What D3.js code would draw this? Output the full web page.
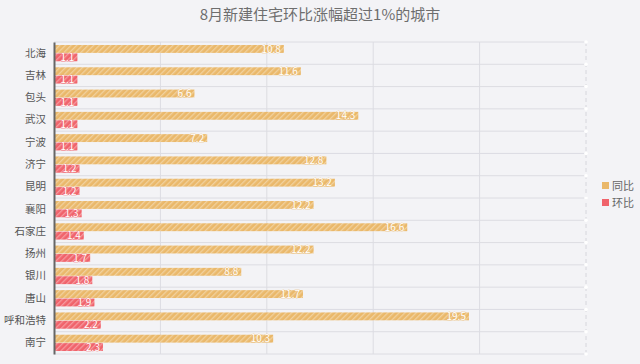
<!DOCTYPE html>
<html lang="zh-CN">
<head>
    <meta charset="utf-8">
    <title>8月新建住宅环比涨幅超过1%的城市</title>
    <style>
        body {
            margin: 0;
            background-color: #f3f3f6;
            font-family: 'Noto Sans CJK SC', 'Noto Sans', sans-serif;
        }
        svg { display: block; }
    </style>
    <script src="https://d3js.org/d3.v7.min.js" charset="utf-8"></script>
</head>
<body>
    <svg id="chart" width="640" height="364"></svg>

    <script type="text/javascript">
      var cities = ["北海", "吉林", "包头", "武汉", "宁波", "济宁", "昆明", "襄阳", "石家庄", "扬州", "银川", "唐山", "呼和浩特", "南宁"]
      var tongbi = [10.8, 11.6, 6.6, 14.3, 7.2, 12.8, 13.2, 12.2, 16.6, 12.2, 8.8, 11.7, 19.5, 10.3]
      var huanbi = [1.1, 1.1, 1.1, 1.1, 1.1, 1.2, 1.2, 1.3, 1.4, 1.7, 1.8, 1.9, 2.2, 2.3]
      var xTicks = [0, 5, 10, 15, 20, 25]
      var seriesNames = ["同比", "环比"]
      var colors = ["#eab86a", "#f0636b"]

      var svg = d3.select("#chart")
      var pLeft = 54, pRight = 586, pTop = 42, pBottom = 354

      var x = d3.scaleLinear().domain([0, 25]).range([pLeft, pRight])
      var y = d3.scaleBand().domain(cities).range([pTop, pBottom])
      var sub = d3.scaleBand().domain(seriesNames).range([3, y.bandwidth() - 3]).paddingInner(0.06)

      // stripe patterns
      var defs = svg.append("defs")
      colors.forEach(function (c, i) {
        var p = defs.append("pattern")
          .attr("id", "stripe" + i)
          .attr("patternUnits", "userSpaceOnUse")
          .attr("width", 4).attr("height", 4)
          .attr("patternTransform", "rotate(45)")
        p.append("rect").attr("width", 4).attr("height", 4).attr("fill", c)
        p.append("rect").attr("width", 1.3).attr("height", 4).attr("fill", "#fff").attr("opacity", 0.35)
      })

      // title
      svg.append("text")
        .attr("x", 320).attr("y", 20)
        .attr("text-anchor", "middle")
        .attr("font-size", 15)
        .attr("fill", "#6e6e6e")
        .text("8月新建住宅环比涨幅超过1%的城市")

      // vertical grid
      svg.append("g").selectAll("line")
        .data(xTicks.slice(1, -1))
        .join("line")
        .attr("x1", d => x(d)).attr("x2", d => x(d))
        .attr("y1", pTop).attr("y2", pBottom)
        .attr("stroke", "#dcdce2")
      svg.append("line")
        .attr("x1", x(25)).attr("x2", x(25))
        .attr("y1", pTop).attr("y2", pBottom)
        .attr("stroke", "#d6d6dc")
        .attr("stroke-dasharray", "4,3")

      // horizontal row separators
      var seps = cities.map(c => y(c)).concat([pBottom])
      svg.append("g").selectAll("line")
        .data(seps)
        .join("line")
        .attr("x1", pLeft).attr("x2", pRight)
        .attr("y1", d => d).attr("y2", d => d)
        .attr("stroke", "#dcdce2")
      svg.append("g").selectAll("circle")
        .data(seps)
        .join("circle")
        .attr("cx", pRight).attr("cy", d => d).attr("r", 1.8)
        .attr("fill", "#fff")

      // bars
      var rows = cities.map((c, i) => ({ city: c, vals: [tongbi[i], huanbi[i]] }))
      var g = svg.append("g").selectAll("g")
        .data(rows)
        .join("g")
        .attr("transform", d => "translate(0," + y(d.city) + ")")

      g.selectAll("rect")
        .data(d => d.vals.map((v, i) => ({ v: v, i: i })))
        .join("rect")
        .attr("x", x(0))
        .attr("y", d => sub(seriesNames[d.i]))
        .attr("width", d => x(d.v) - x(0))
        .attr("height", sub.bandwidth())
        .attr("fill", d => "url(#stripe" + d.i + ")")

      g.selectAll("text")
        .data(d => d.vals.map((v, i) => ({ v: v, i: i })))
        .join("text")
        .attr("x", d => x(d.v) - 3)
        .attr("y", d => sub(seriesNames[d.i]) + sub.bandwidth() / 2)
        .attr("dy", "0.36em")
        .attr("text-anchor", "end")
        .attr("font-size", 10)
        .attr("fill", "#fff")
        .attr("stroke", d => colors[d.i])
        .attr("stroke-width", 0.6)
        .attr("paint-order", "stroke")
        .text(d => d.v)

      // category axis
      var yAxis = svg.append("g")
        .attr("transform", "translate(" + pLeft + ",0)")
        .call(d3.axisLeft(y).tickSize(0).tickPadding(8))
      yAxis.select(".domain").attr("stroke", "#666").attr("stroke-width", 2)
      yAxis.selectAll("text")
        .attr("font-size", 10.5)
        .attr("fill", "#555")
        .attr("font-family", "'Noto Sans CJK SC', sans-serif")

      // legend
      var lg = svg.append("g").selectAll("g")
        .data(seriesNames)
        .join("g")
        .attr("transform", (d, i) => "translate(602," + (186 + i * 17) + ")")
      lg.append("rect")
        .attr("x", 0).attr("y", -4)
        .attr("width", 7).attr("height", 7)
        .attr("fill", (d, i) => colors[i])
      lg.append("text")
        .attr("x", 10).attr("dy", "0.35em")
        .attr("font-size", 11)
        .attr("fill", "#666")
        .text(d => d)
    </script>
</body>
</html>
